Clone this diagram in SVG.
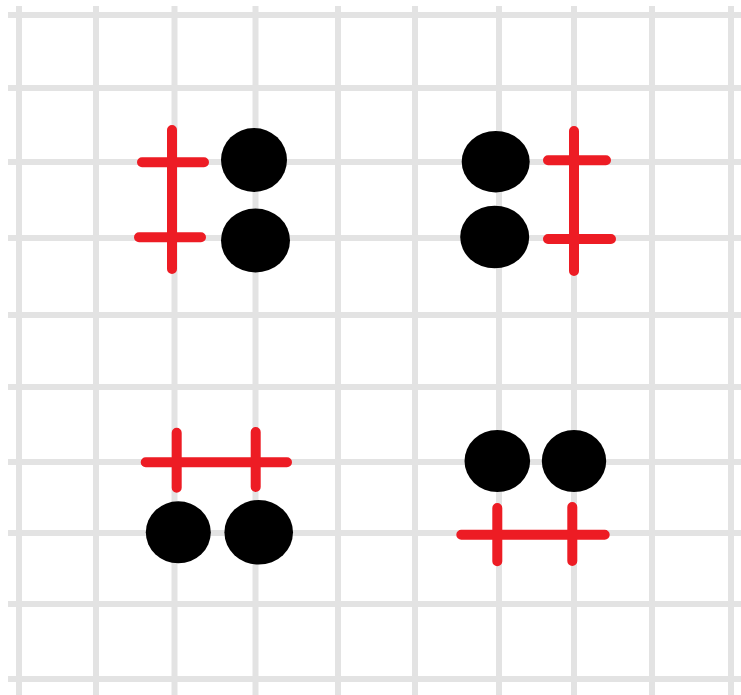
<svg xmlns="http://www.w3.org/2000/svg" width="741" height="695" viewBox="0 0 741 695">
<style>
.grid line{stroke:#e3e3e3;stroke-width:6}
.red{stroke:#ed1c24;stroke-width:10;stroke-linecap:round;fill:none}
.dot{fill:#000}
</style>
<rect width="741" height="695" fill="#fff"/>
<g id="grid" class="grid">
<line x1="19" y1="6" x2="19" y2="695"/>
<line x1="96" y1="6" x2="96" y2="695"/>
<line x1="174.5" y1="6" x2="174.5" y2="695"/>
<line x1="255.5" y1="6" x2="255.5" y2="695"/>
<line x1="338" y1="6" x2="338" y2="695"/>
<line x1="415" y1="6" x2="415" y2="695"/>
<line x1="499" y1="6" x2="499" y2="695"/>
<line x1="574" y1="6" x2="574" y2="695"/>
<line x1="652" y1="6" x2="652" y2="695"/>
<line x1="731" y1="6" x2="731" y2="695"/>
<line x1="8" y1="15" x2="741" y2="15"/>
<line x1="8" y1="88" x2="741" y2="88"/>
<line x1="8" y1="162" x2="741" y2="162"/>
<line x1="8" y1="238" x2="741" y2="238"/>
<line x1="8" y1="315" x2="741" y2="315"/>
<line x1="8" y1="387" x2="741" y2="387"/>
<line x1="8" y1="462" x2="741" y2="462"/>
<line x1="8" y1="533" x2="741" y2="533"/>
<line x1="8" y1="604" x2="741" y2="604"/>
<line x1="8" y1="679" x2="741" y2="679"/>
</g>
<g id="group-top-left">
<path class="red" d="M172 130V269M142 162.3H204M139 237.3H201"/>
<ellipse class="dot" cx="254" cy="160" rx="33" ry="32"/>
<ellipse class="dot" cx="255.5" cy="240.5" rx="34.5" ry="32"/>
</g>
<g id="group-top-right">
<path class="red" d="M574 131V271M548 160.3H606M548 239H611"/>
<ellipse class="dot" cx="495.7" cy="161.7" rx="34" ry="30.7"/>
<ellipse class="dot" cx="494.7" cy="237" rx="34.5" ry="31.3"/>
</g>
<g id="group-bottom-left">
<path class="red" d="M145.7 462.3H287M176.7 432.7V487.7M255.7 432V487"/>
<ellipse class="dot" cx="178.3" cy="532.3" rx="32.5" ry="31"/>
<ellipse class="dot" cx="258.7" cy="532.3" rx="34.3" ry="32.3"/>
</g>
<g id="group-bottom-right">
<path class="red" d="M461.3 534.7H604.7M497.3 508V561.3M572.3 507V561"/>
<ellipse class="dot" cx="497.3" cy="461" rx="32.8" ry="31"/>
<ellipse class="dot" cx="574" cy="461" rx="32.2" ry="31"/>
</g>
</svg>
